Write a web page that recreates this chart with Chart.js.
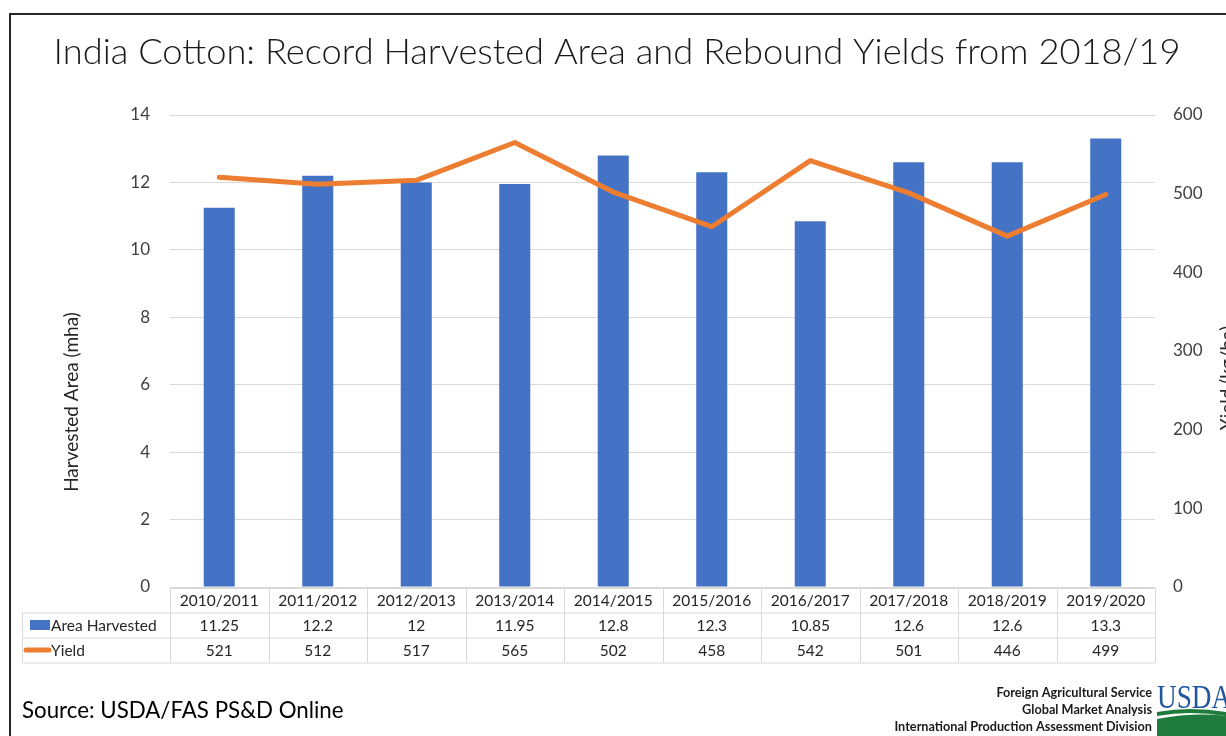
<!DOCTYPE html>
<html>
<head>
<meta charset="utf-8">
<script src="https://cdn.jsdelivr.net/npm/chart.js@4.4.1/dist/chart.umd.min.js"></script>
<style>
  html, body { margin: 0; padding: 0; background: #fff; }
  #wrap { width: 1226px; height: 736px; position: relative; }
</style>
</head>
<body>
<div id="wrap"><canvas id="c" width="1226" height="736"></canvas></div>
<script>
// ---- Data ----
const categories = ['2010/2011','2011/2012','2012/2013','2013/2014','2014/2015','2015/2016','2016/2017','2017/2018','2018/2019','2019/2020'];
const areaHarvested = [11.25, 12.2, 12, 11.95, 12.8, 12.3, 10.85, 12.6, 12.6, 13.3];
const yieldValues = [521, 512, 517, 565, 502, 458, 542, 501, 446, 499];
const leftTicks = [0, 2, 4, 6, 8, 10, 12, 14];
const rightTicks = [0, 100, 200, 300, 400, 500, 600];
const titleText = 'India Cotton: Record Harvested Area and Rebound Yields from 2018/19';
const leftAxisTitle = 'Harvested Area (mha)';
const rightAxisTitle = 'Yield (kg/ha)';
const areaLabel = 'Area Harvested';
const yieldLabel = 'Yield';
const sourceText = 'Source: USDA/FAS PS&D Online';
const footerLines = ['Foreign Agricultural Service', 'Global Market Analysis', 'International Production Assessment Division'];

const BLUE = '#4472C4';
const ORANGE = '#ED7D31';
const GRID = '#D9D9D9';
const TXT = '#404040';
const FONT = 'Lato, "Open Sans", sans-serif';

const decor = {
  id: 'decor',
  afterDraw(chart) {
    const ctx = chart.ctx;
    const x = chart.scales.x;
    const area = chart.chartArea;
    ctx.save();
    // frame
    ctx.strokeStyle = '#262626';
    ctx.lineWidth = 2;
    ctx.beginPath();
    ctx.moveTo(10, 736); ctx.lineTo(10, 14); ctx.lineTo(1226, 14);
    ctx.stroke();

    // title
    ctx.fillStyle = '#1a1a1a';
    ctx.font = '300 36.3px ' + FONT;
    ctx.textAlign = 'center';
    ctx.textBaseline = 'middle';
    ctx.fillText(titleText, 617, 52);

    // axis titles
    ctx.font = '19px ' + FONT;
    ctx.fillStyle = '#262626';
    ctx.save();
    ctx.translate(72, 402);
    ctx.rotate(-Math.PI / 2);
    ctx.fillText(leftAxisTitle, 0, 0);
    ctx.restore();
    ctx.save();
    ctx.translate(1228, 378);
    ctx.rotate(-Math.PI / 2);
    ctx.fillText(rightAxisTitle, 0, 0);
    ctx.restore();

    // data table
    const n = categories.length;
    const half = (x.getPixelForValue(1) - x.getPixelForValue(0)) / 2;
    const left0 = x.getPixelForValue(0) - half;
    const right0 = x.getPixelForValue(n - 1) + half;
    const r0 = area.bottom + 1, r1 = r0 + 24.5, r2 = r1 + 25, r3 = r2 + 25;
    const tableLeft = 22;
    ctx.strokeStyle = GRID;
    ctx.lineWidth = 1;
    ctx.beginPath();
    ctx.moveTo(left0, r0 + 0.5); ctx.lineTo(right0, r0 + 0.5);
    ctx.moveTo(tableLeft, r1 + 0.5); ctx.lineTo(right0, r1 + 0.5);
    ctx.moveTo(tableLeft, r2 + 0.5); ctx.lineTo(right0, r2 + 0.5);
    ctx.moveTo(tableLeft, r3 + 0.5); ctx.lineTo(right0, r3 + 0.5);
    ctx.moveTo(tableLeft + 0.5, r1); ctx.lineTo(tableLeft + 0.5, r3);
    for (let i = 0; i <= n; i++) {
      const px = Math.round(left0 + i * 2 * half) + 0.5;
      ctx.moveTo(px, r0); ctx.lineTo(px, r3);
    }
    ctx.stroke();

    ctx.fillStyle = '#262626';
    ctx.font = '15.5px ' + FONT;
    ctx.textAlign = 'center';
    ctx.textBaseline = 'middle';
    for (let i = 0; i < n; i++) {
      const cx = x.getPixelForValue(i);
      ctx.fillText(categories[i], cx, (r0 + r1) / 2 + 1);
      ctx.fillText(String(areaHarvested[i]), cx, (r1 + r2) / 2 + 1);
      ctx.fillText(String(yieldValues[i]), cx, (r2 + r3) / 2 + 1);
    }
    // legend keys
    ctx.fillStyle = BLUE;
    ctx.fillRect(30, (r1 + r2) / 2 - 5, 20, 10);
    ctx.strokeStyle = ORANGE;
    ctx.lineWidth = 5;
    ctx.lineCap = 'round';
    ctx.beginPath();
    ctx.moveTo(26, (r2 + r3) / 2); ctx.lineTo(49, (r2 + r3) / 2);
    ctx.stroke();
    ctx.fillStyle = '#262626';
    ctx.textAlign = 'left';
    ctx.fillText(areaLabel, 51, (r1 + r2) / 2 + 1);
    ctx.fillText(yieldLabel, 51, (r2 + r3) / 2 + 1);

    // source
    ctx.font = '22.3px ' + FONT;
    ctx.fillStyle = '#000';
    ctx.textBaseline = 'alphabetic';
    ctx.fillText(sourceText, 22, 718);

    // footer
    ctx.font = 'bold 12.7px ' + FONT;
    ctx.textAlign = 'right';
    ctx.fillStyle = '#1a1a1a';
    ctx.fillText(footerLines[0], 1152, 697);
    ctx.fillText(footerLines[1], 1152, 714);
    ctx.fillText(footerLines[2], 1152, 731);

    // USDA logo
    ctx.textAlign = 'left';
    ctx.fillStyle = '#1F56A0';
    ctx.font = '34px "Liberation Serif", "DejaVu Serif", serif';
    ctx.save();
    ctx.translate(1157, 708);
    ctx.scale(0.8, 1);
    ctx.fillText('USDA', 0, 0);
    ctx.restore();
    ctx.fillStyle = '#1E7B3C';
    ctx.beginPath();
    ctx.moveTo(1157, 712);
    ctx.quadraticCurveTo(1190, 706, 1226, 712);
    ctx.lineTo(1226, 716);
    ctx.quadraticCurveTo(1190, 710, 1157, 716);
    ctx.closePath();
    ctx.fill();
    ctx.beginPath();
    ctx.moveTo(1157, 719);
    ctx.quadraticCurveTo(1195, 712, 1226, 716);
    ctx.lineTo(1226, 736);
    ctx.lineTo(1157, 736);
    ctx.closePath();
    ctx.fill();
    ctx.restore();
  }
};

new Chart(document.getElementById('c'), {
  data: {
    labels: categories,
    datasets: [
      {
        type: 'line',
        label: yieldLabel,
        data: yieldValues,
        yAxisID: 'y1',
        borderColor: ORANGE,
        backgroundColor: ORANGE,
        borderWidth: 5,
        pointRadius: 0,
        tension: 0,
        borderJoinStyle: 'round',
        borderCapStyle: 'round',
        order: 0
      },
      {
        type: 'bar',
        label: areaLabel,
        data: areaHarvested,
        yAxisID: 'y',
        backgroundColor: BLUE,
        borderWidth: 0,
        categoryPercentage: 1,
        barPercentage: 0.315,
        order: 1
      }
    ]
  },
  options: {
    responsive: false,
    animation: false,
    devicePixelRatio: 1,
    layout: { padding: { top: 115, bottom: 149, left: 0, right: 0 } },
    plugins: { legend: { display: false }, tooltip: { enabled: false }, title: { display: false } },
    scales: {
      x: { display: false, offset: true },
      y: {
        position: 'left',
        min: 0, max: 14,
        afterBuildTicks(s) { s.ticks = leftTicks.map(v => ({ value: v })); },
        afterFit(s) { s.width = 170; },
        grid: { color: GRID, lineWidth: 1, drawTicks: false },
        border: { display: false },
        ticks: { padding: 20, color: TXT, font: { family: FONT, size: 17 } }
      },
      y1: {
        position: 'right',
        min: 0, max: 600,
        afterBuildTicks(s) { s.ticks = rightTicks.map(v => ({ value: v })); },
        afterFit(s) { s.width = 71; },
        grid: { display: false, drawTicks: false },
        border: { display: false },
        ticks: { padding: 18, color: TXT, font: { family: FONT, size: 17 } }
      }
    }
  },
  plugins: [decor]
});
</script>
</body>
</html>
